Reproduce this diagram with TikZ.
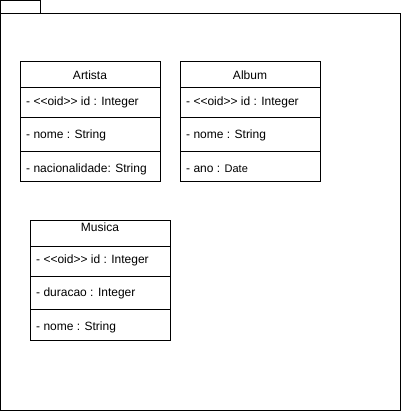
\documentclass[tikz,border=0pt]{standalone}
\usepackage{fontspec}
\setmainfont{Liberation Sans}
\newcommand{\oid}{<\kern0pt<oid>\kern0pt>}
\begin{document}
\begin{tikzpicture}[x=1pt,y=-1pt,
  frame/.style={draw=black,line width=1pt,fill=white},
  head/.style={font=\fontsize{12}{14}\selectfont,anchor=center,inner sep=0pt},
  attr/.style={font=\fontsize{12}{14}\selectfont,anchor=west,inner sep=0pt},
  sep/.style={draw=black,line width=1pt}]
\useasboundingbox (0,0) rectangle (401,411);
% package
\draw[frame] (0.5,0.5) rectangle (40,14);
\draw[frame] (0.5,14) rectangle (400,410);
% Artista
\draw[frame] (20,62) rectangle (160,182);
\draw[sep] (20,88) -- (160,88);
\draw[sep] (20,118) -- (160,118);
\draw[sep] (20,152) -- (160,152);
\node[head] (artista) at (90,75) {Artista};
\node[attr] (a1) at (26,102) {- \oid{} id : Integer};
\node[attr] (a2) at (26,135) {- nome : String};
\node[attr] (a3) at (26,169) {- nacionalidade: String};
% Album
\draw[frame] (180,62) rectangle (320,182);
\draw[sep] (180,88) -- (320,88);
\draw[sep] (180,118) -- (320,118);
\draw[sep] (180,152) -- (320,152);
\node[head] (album) at (250,75) {Album};
\node[attr] (b1) at (186,102) {- \oid{} id : Integer};
\node[attr] (b2) at (186,135) {- nome : String};
\node[attr] (b3) at (186,169) {- ano : \fontsize{11}{13}\selectfont Date};
% Musica
\draw[frame] (30,220) rectangle (170,340);
\draw[sep] (30,246) -- (170,246);
\draw[sep] (30,276) -- (170,276);
\draw[sep] (30,309) -- (170,309);
\node[head] (musica) at (100,227) {Musica};
\node[attr] (m1) at (36,260) {- \oid{} id : Integer};
\node[attr] (m2) at (36,293) {- duracao : Integer};
\node[attr] (m3) at (36,327) {- nome : String};
\end{tikzpicture}
\end{document}
